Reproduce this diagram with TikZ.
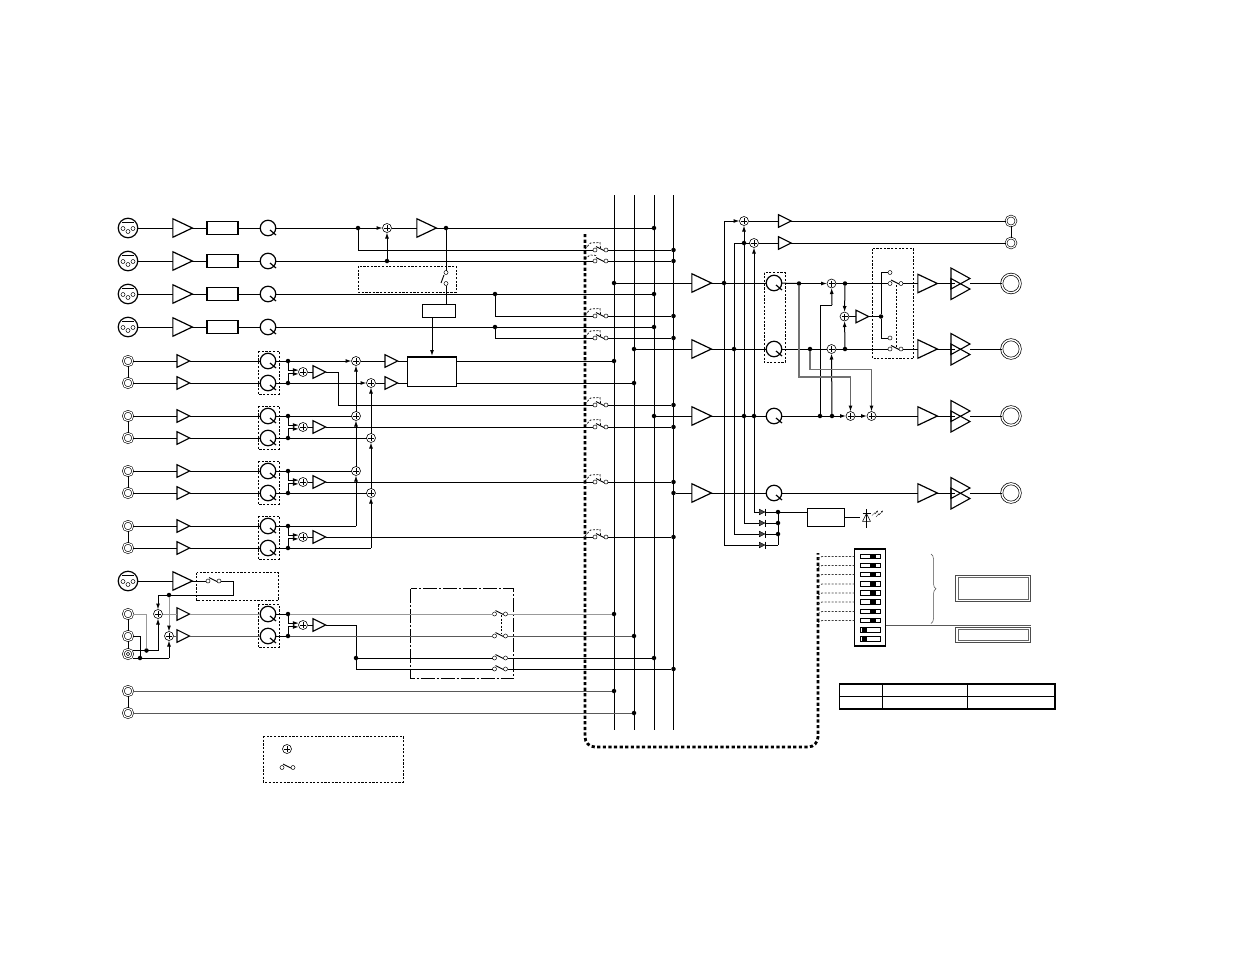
\documentclass[tikz,border=0pt]{standalone}
\usepackage{amsmath}
\usepackage{xcolor}
\usepackage{tikz}
\usetikzlibrary{shapes.geometric,arrows.meta,decorations.pathreplacing}

\tikzset{
  wire/.style={line width=1pt},
  gwire/.style={line width=1pt,black!40},
  dwire/.style={line width=1pt,black!65},
  arr/.style={line width=1pt,-{Latex[length=6pt,width=4pt]}},
  garr/.style={line width=1pt,black!40,-{Latex[length=6pt,width=4pt,black]}},
  amp/.style={isosceles triangle,isosceles triangle stretches,draw,inner sep=0,outer sep=0,
    line width=1.2pt,minimum height=19.5pt,minimum width=18.5pt,xshift=-3.3pt},
  ampsm/.style={amp,line width=1.1pt,minimum height=12.5pt,minimum width=12.5pt,xshift=1.2pt},
  ampdb/.style={amp,line width=1.1pt,minimum height=19pt,minimum width=21pt},
  padbox/.style={rectangle,draw,line width=1.4pt,inner sep=0,outer sep=0,minimum width=31pt,minimum height=13pt},
  knob/.style={circle,draw,line width=1.2pt,inner sep=0,outer sep=0,minimum size=15.5pt},
  xlr/.style={circle,draw,line width=1.2pt,inner sep=0,outer sep=0,minimum size=19.5pt},
  pinh/.style={circle,draw,line width=0.5pt,inner sep=0,outer sep=0,minimum size=4pt},
  jack/.style={circle,draw,line width=0.6pt,double,double distance=1.1pt,inner sep=0,outer sep=0,minimum size=9.5pt},
  jackbig/.style={circle,draw,line width=0.7pt,double,double distance=1.4pt,inner sep=0,outer sep=0,minimum size=18.5pt},
  sumn/.style={circle,draw,line width=0.6pt,inner sep=0,outer sep=0,minimum size=9pt,
    path picture={\draw[line width=0.6pt] ([yshift=-1.5pt]path picture bounding box.north) -- ([yshift=1.5pt]path picture bounding box.south)
      ([xshift=1.5pt]path picture bounding box.west) -- ([xshift=-1.5pt]path picture bounding box.east);}},
  dot/.style={circle,fill,inner sep=0,outer sep=0,minimum size=4.5pt},
  cont/.style={circle,draw,line width=0.5pt,inner sep=0,outer sep=0,minimum size=4pt},
  dashbox/.style={line width=0.8pt,dash pattern=on 2.2pt off 1.5pt},
  swlink/.style={line width=0.7pt,dash pattern=on 2pt off 1.5pt},
  busdash/.style={line width=2.8pt,dash pattern=on 3.2pt off 2.4pt,rounded corners=10pt},
  dio/.style={isosceles triangle,isosceles triangle stretches,draw,fill=black!70,inner sep=0,outer sep=0,line width=0.5pt,
    minimum height=5.5pt,minimum width=5.5pt,xshift=-0.9pt},
  slot/.style={rectangle,draw,line width=0.8pt,inner sep=0,outer sep=0,minimum width=20pt,minimum height=4.5pt},
  slotk/.style={rectangle,fill,inner sep=0,outer sep=0,minimum width=5.5pt,minimum height=4.5pt},
  plain/.style={rectangle,draw,line width=1pt,inner sep=0,outer sep=0}
}

% xlr connector: name, x, y
\newcommand{\xlrjack}[3]{%
  \node[xlr] (#1) at (#2,#3) {};
  \node[pinh] (#1p) at (#2-5,#3+0.5) {};
  \node[pinh] (#1q) at (#2+5,#3+0.5) {};
  \node[pinh] (#1r) at (#2,#3+3.5) {};
  \draw[line width=0.7pt] (#2-6,#3-6) -- (#2+6,#3-6);
}
% level knob: name, x, y
\newcommand{\knobdial}[3]{%
  \node[knob] (#1) at (#2,#3) {};
  \draw[line width=1.2pt] (#2+2,#3+2) -- (#2+8,#3+7);
}
% open switch: name, x, y
\newcommand{\swt}[3]{%
  \node[cont] (#1l) at (#2,#3) {};
  \node[cont] (#1r) at (#2+11,#3) {};
  \draw[line width=0.9pt] (#2+1,#3-3.5) -- (#2+9,#3+0.5);
}
% dashed link from the thick bus line to a switch: y
\newcommand{\buslink}[1]{%
  \draw[swlink] (585,#1-1) -- (590.5,#1-7) -- (600,#1-7.5) -- (600.5,#1-2);
}
% output double triangle: name, y
\newcommand{\ampdbl}[2]{%
  \node[ampdb] (#1u) at (960.5,#2-5) {};
  \node[ampdb] (#1d) at (960.5,#2+5.5) {};
  \coordinate (#1i) at (955,#2);
  \coordinate (#1o) at (970,#2);
}

\begin{document}
\begin{tikzpicture}[x=1pt,y=-1pt]
  \useasboundingbox (0,0) rectangle (1235,954);

  % vertical buses
  \foreach \n/\x in {1/614,2/634,3/654,4/673.5} {
    \coordinate (bus\n t) at (\x,195);
    \coordinate (bus\n b) at (\x,730);
    \draw[wire] (bus\n t) -- (bus\n b);
  }

  % thick dashed control line
  \coordinate (ctla) at (585,234);
  \coordinate (ctlb) at (585,747);
  \coordinate (ctlc) at (818,747);
  \coordinate (ctld) at (818,553);
  \draw[busdash] (ctla) -- (ctlb) -- (ctlc) -- (ctld);

  % mic inputs
  \foreach \n/\y in {1/228,2/261,3/294,4/327} {
    \xlrjack{xl\n}{128}{\y}
    \node[amp] (am\n) at (182,\y) {};
    \node[padbox] (pd\n) at (222.5,\y) {};
    \knobdial{kn\n}{268}{\y}
    \draw[wire] (xl\n) -- (am\n);
    \draw[wire] (am\n) -- (pd\n);
    \draw[wire] (pd\n) -- (kn\n);
  }

  % bus switches
  \foreach \n/\y in {1/250,2/261,3/316,4/338,5/405,6/427,7/482,8/537} {
    \swt{sw\n}{595}{\y}
    \node[dot] (bd\n) at (673.5,\y) {};
    \draw[wire] (sw\n r) -- (bd\n);
  }
  \foreach \y in {250,316,338,405,427,482,537} {
    \buslink{\y}
  }
  \draw[swlink] (585,259) -- (590,255) -- (597,255.5);

  % channel 1 and 2 mix
  \node[dot] (j1a) at (358,228) {};
  \node[sumn] (s1) at (387,228) {};
  \node[amp] (am5) at (426,228) {};
  \node[dot] (j1b) at (446,228) {};
  \node[dot] (j1c) at (654,228) {};
  \node[dot] (j2a) at (387,261) {};
  \draw[wire] (kn1) -- (j1a);
  \draw[arr] (j1a) -- (s1);
  \draw[wire] (s1) -- (am5);
  \draw[wire] (am5) -- (j1b) -- (j1c);
  \draw[wire] (j1a) |- (sw1l);
  \draw[wire] (kn2) -- (sw2l);
  \draw[arr] (j2a) -- (s1);

  % channel 3 and 4
  \node[dot] (j3a) at (495,294) {};
  \node[dot] (j3b) at (654,294) {};
  \node[dot] (j4a) at (495,327) {};
  \node[dot] (j4b) at (654,327) {};
  \draw[wire] (kn3) -- (j3a) -- (j3b);
  \draw[wire] (kn4) -- (j4a) -- (j4b);
  \draw[wire] (j3a) |- (sw3l);
  \draw[wire] (j4a) |- (sw4l);

  % insert switch and effect block
  \draw[dashbox] (358,266) rectangle (456,292);
  \node[cont] (ic1) at (446,272.5) {};
  \node[cont] (ic2) at (446,283.5) {};
  \draw[line width=0.9pt] (444,275) -- (441,283);
  \node[plain,minimum width=33pt,minimum height=13pt] (ins) at (439,310.5) {};
  \node[plain,minimum width=49.5pt,minimum height=30pt] (fx) at (432,371.5) {};
  \draw[line width=2pt] (fx.north west) -- (fx.north east);
  \coordinate (insb) at (446,304.5);
  \coordinate (fxa) at (432,317);
  \coordinate (fxb) at (432,356);
  \draw[wire] (j1b) -- (ic1);
  \draw[wire] (ic2) -- (insb);
  \draw[arr] (fxa) -- (fxb);

  % stereo line inputs
  \foreach \n/\y/\z/\m in {5/361/383/372,6/416/438/427,7/471/493/482,8/526/548/537} {
    \node[jack] (ja\n) at (128,\y) {};
    \node[jack] (jb\n) at (128,\z) {};
    \node[ampsm] (aa\n) at (183,\y) {};
    \node[ampsm] (ab\n) at (183,\z) {};
    \knobdial{ka\n}{268}{\y}
    \knobdial{kb\n}{268}{\z}
    \draw[dashbox] (258,\y-10) rectangle (279,\z+11);
    \node[dot] (da\n) at (288,\y) {};
    \node[dot] (db\n) at (288,\z) {};
    \node[sumn] (mx\n) at (303,\m) {};
    \node[ampsm] (ma\n) at (319,\m) {};
    \draw[wire] (ja\n) -- (jb\n);
    \draw[wire] (ja\n) -- (aa\n);
    \draw[wire] (jb\n) -- (ab\n);
    \draw[wire] (aa\n) -- (ka\n);
    \draw[wire] (ab\n) -- (kb\n);
    \draw[wire] (ka\n) -- (da\n);
    \draw[wire] (kb\n) -- (db\n);
    \draw[arr] (da\n) |- (mx\n.155);
    \draw[arr] (db\n) |- (mx\n.205);
    \draw[wire] (mx\n) -- (ma\n);
  }

  % stereo mix sums
  \node[sumn] (sa5) at (356,361) {};
  \node[sumn] (sb5) at (371,383) {};
  \node[sumn] (sa6) at (356,416) {};
  \node[sumn] (sb6) at (371,438) {};
  \node[sumn] (sa7) at (356,471) {};
  \node[sumn] (sb7) at (371,493) {};
  \coordinate (ca8) at (356,526);
  \coordinate (cb8) at (371,548);
  \draw[arr] (da5) -- (sa5);
  \draw[arr] (db5) -- (sb5);
  \draw[wire] (da6) -- (sa6);
  \draw[wire] (db6) -- (sb6);
  \draw[wire] (da7) -- (sa7);
  \draw[wire] (db7) -- (sb7);
  \draw[wire] (da8) -- (ca8);
  \draw[wire] (db8) -- (cb8);
  \draw[arr] (ca8) -- (sa7);
  \draw[arr] (cb8) -- (sb7);
  \draw[arr] (sa7) -- (sa6);
  \draw[arr] (sb7) -- (sb6);
  \draw[arr] (sa6) -- (sa5);
  \draw[arr] (sb6) -- (sb5);

  % buffers into the effect block
  \node[ampsm] (ar5a) at (391,361) {};
  \node[ampsm] (ar5b) at (391,383) {};
  \node[dot] (d5a) at (614,361) {};
  \node[dot] (d5b) at (634,383) {};
  \draw[wire] (sa5) -- (ar5a);
  \draw[wire] (sb5) -- (ar5b);
  \draw[wire] (ar5a) -- (ar5a -| fx.west);
  \draw[wire] (ar5b) -- (ar5b -| fx.west);
  \draw[wire] (d5a -| fx.east) -- (d5a);
  \draw[wire] (d5b -| fx.east) -- (d5b);

  % mix outputs to bus switches
  \coordinate (cm5) at (338,372);
  \draw[wire] (ma5) -- (cm5) |- (sw5l);
  \draw[wire] (ma6) -- (sw6l);
  \draw[wire] (ma7) -- (sw7l);
  \draw[wire] (ma8) -- (sw8l);

  % aux input
  \xlrjack{xl9}{128}{581}
  \node[amp] (am9) at (182,581) {};
  \draw[dashbox] (196.5,572.5) rectangle (278.5,600.5);
  \swt{sx9}{208}{581}
  \coordinate (cx9a) at (233,581);
  \coordinate (cx9b) at (233,595);
  \coordinate (cx9c) at (158,595);
  \node[dot] (dx9) at (169,595) {};
  \node[sumn] (sm9a) at (158,614) {};
  \node[sumn] (sm9b) at (169,636) {};
  \draw[wire] (xl9) -- (am9);
  \draw[wire] (am9) -- (sx9l);
  \draw[wire] (sx9r) -- (cx9a) -- (cx9b) -- (cx9c);
  \draw[arr] (cx9c) -- (sm9a);
  \draw[garr] (dx9) -- (sm9b);

  % rear line jacks
  \node[jack] (ja9) at (128,614) {};
  \node[jack] (jb9) at (128,636) {};
  \node[jack] (jc9) at (128,654) {};
  \node[circle,draw,line width=0.5pt,inner sep=0,minimum size=3.5pt] (jd9) at (128,654) {};
  \node[dot] (dj9a) at (146.5,650.5) {};
  \node[dot] (dj9b) at (140,658) {};
  \coordinate (cj9a) at (146.5,614);
  \coordinate (cj9b) at (140,636);
  \coordinate (cj9c) at (158,650.5);
  \coordinate (cj9d) at (169,658);
  \draw[wire] (ja9) -- (jb9);
  \draw[wire] (jb9) -- (jc9);
  \draw[gwire] (ja9) -- (cj9a) -- (dj9a);
  \draw[wire] (jb9) -- (cj9b) -- (dj9b);
  \draw[wire] (dj9a -| jc9.east) -- (cj9c);
  \draw[wire] (dj9b -| jc9.east) -- (cj9d);
  \draw[arr] (cj9c) -- (sm9a);
  \draw[arr] (cj9d) -- (sm9b);
  \node[ampsm] (aa9) at (183,614) {};
  \node[ampsm] (ab9) at (183,636) {};
  \knobdial{ka9}{268}{614}
  \knobdial{kb9}{268}{636}
  \draw[dashbox] (258,604.5) rectangle (279,647.5);
  \node[dot] (da9) at (288,614) {};
  \node[dot] (db9) at (288,636) {};
  \node[sumn] (mx9) at (303,625) {};
  \node[ampsm] (ma9) at (319,625) {};
  \draw[gwire] (sm9a) -- (aa9);
  \draw[gwire] (aa9) -- (ka9);
  \draw[dwire] (sm9b) -- (ab9);
  \draw[dwire] (ab9) -- (kb9);
  \draw[wire] (ka9) -- (da9);
  \draw[wire] (kb9) -- (db9);
  \draw[arr] (da9) |- (mx9.155);
  \draw[arr] (db9) |- (mx9.205);
  \draw[wire] (mx9) -- (ma9);

  % aux switch block
  \draw[line width=0.9pt,dash pattern=on 14pt off 2pt on 2pt off 2pt] (410.5,588.5) rectangle (513.5,678.5);
  \swt{sxa}{494.5}{614}
  \swt{sxb}{494.5}{636}
  \swt{sxc}{494.5}{658}
  \swt{sxd}{494.5}{669}
  \coordinate (cxl) at (356,625);
  \coordinate (lnka) at (501,615);
  \coordinate (lnkb) at (501,633);
  \node[dot] (dxl) at (356,658) {};
  \node[dot] (dxa) at (614,614) {};
  \node[dot] (dxb) at (634,636) {};
  \node[dot] (dxc) at (654,658) {};
  \node[dot] (dxd) at (673.5,669) {};
  \draw[swlink] (lnka) -- (lnkb);
  \draw[wire] (ma9) -- (cxl) -- (dxl);
  \draw[wire] (dxl) -- (sxcl);
  \draw[wire] (dxl) |- (sxdl);
  \draw[gwire] (da9) -- (sxal);
  \draw[gwire] (sxar) -- (dxa);
  \draw[dwire] (db9) -- (sxbl);
  \draw[dwire] (sxbr) -- (dxb);
  \draw[wire] (sxcr) -- (dxc);
  \draw[wire] (sxdr) -- (dxd);

  % bottom jacks
  \node[jack] (je1) at (128,691) {};
  \node[jack] (je2) at (128,713) {};
  \node[dot] (de1) at (614,691) {};
  \node[dot] (de2) at (634,713) {};
  \draw[wire] (je1) -- (je2);
  \draw[dwire] (je1) -- (de1);
  \draw[dwire] (je2) -- (de2);

  % legend
  \draw[dashbox] (263,736) rectangle (403,782);
  \node[sumn] (lgs) at (287,749) {};
  \swt{lgw}{282}{767.5}

  % output amps from buses
  \foreach \n/\b/\y in {1/614/283,2/634/349,3/654/416,4/673.5/493} {
    \node[dot] (od\n) at (\b,\y) {};
    \node[amp] (oa\n) at (701,\y) {};
    \knobdial{ok\n}{774}{\y}
    \draw[wire] (od\n) -- (oa\n);
  }
  \draw[dashbox] (764,272.5) rectangle (785,362.5);
  \node[dot] (dn1) at (724,283) {};
  \node[dot] (dn2) at (734,349) {};
  \node[dot] (dn3) at (744,416) {};
  \node[dot] (dn4) at (754,416) {};
  \draw[wire] (oa1) -- (dn1) -- (ok1);
  \draw[wire] (oa2) -- (dn2) -- (ok2);
  \draw[wire] (oa3) -- (dn3) -- (dn4) -- (ok3);
  \draw[wire] (oa4) -- (ok4);

  % headphone sums
  \node[sumn] (hs1) at (744,221) {};
  \node[sumn] (hs2) at (754,243) {};
  \node[dot] (hd2) at (744,243) {};
  \node[ampsm] (ha1) at (784.5,221) {};
  \node[ampsm] (ha2) at (784.5,243) {};
  \node[jack,minimum size=10pt] (hj1) at (1011,221) {};
  \node[jack,minimum size=10pt] (hj2) at (1011,243) {};
  \coordinate (hc1) at (724,221);
  \coordinate (hc2) at (734,243);
  \draw[arr] (hc1) -- (hs1);
  \draw[wire] (hc2) -- (hd2) -- (hs2);
  \draw[wire] (hs1) -- (ha1);
  \draw[wire] (hs2) -- (ha2);
  \draw[wire] (ha1) -- (hj1);
  \draw[wire] (ha2) -- (hj2);
  \draw[wire] (hj1) -- (hj2);

  % clip leds
  \foreach \n/\y/\x in {1/512/754,2/523/744,3/534/734,4/545/724} {
    \node[dio] (dc\n) at (762,\y) {};
    \draw[line width=1.1pt] (765.5,\y-3.5) -- (765.5,\y+3.5);
    \coordinate (dl\n) at (\x,\y);
    \coordinate (dr\n) at (778,\y);
    \draw[wire] (dl\n) -- (dc\n);
    \draw[wire] (dc\n) -- (dr\n);
  }
  \draw[arr] (dn4) -- (hs2);
  \draw[wire] (dn3) -- (hd2);
  \draw[arr] (hd2) -- (hs1);
  \draw[wire] (dn1) -- (hc1);
  \draw[wire] (dn2) -- (hc2);
  \draw[wire] (dn1) -- (dl4);
  \draw[wire] (dn2) -- (dl3);
  \draw[wire] (dn3) -- (dl2);
  \draw[wire] (dn4) -- (dl1);
  \node[dot] (dq1) at (778,512) {};
  \node[dot] (dq2) at (778,523) {};
  \node[dot] (dq3) at (778,534) {};
  \draw[wire] (dq1) -- (dr4);
  \node[plain,line width=1.2pt,minimum width=36.5pt,minimum height=17.5pt] (clp) at (826,517.5) {};
  \draw[wire] (dq1) -- (dq1 -| clp.west);
  \coordinate (ledi) at (860,517.5);
  \coordinate (leda) at (866.5,509);
  \coordinate (ledb) at (866.5,528);
  \node[dio,xshift=0.9pt,fill=white,shape border rotate=90,minimum height=8pt,minimum width=8pt] (led) at (866.5,519) {};
  \draw[wire] (clp.east |- ledi) -- (ledi);
  \draw[wire] (leda) -- (ledb);
  \draw[wire] (862.5,513.5) -- (870.5,513.5);
  \draw[line width=0.3pt,-{Latex[length=2pt,width=1.5pt]}] (872,515.5) -- (875,512.5) -- (875,514) -- (878,510.5);
  \draw[line width=0.3pt,-{Latex[length=2pt,width=1.5pt]}] (876,517) -- (879,513.5) -- (879,515) -- (883,510.5);

  % main section: left and right
  \node[dot] (ms1) at (799,283.5) {};
  \node[sumn] (ms2) at (831.5,283.5) {};
  \node[dot] (ms3) at (845,283.5) {};
  \node[dot] (mr1) at (810,349) {};
  \node[sumn] (mr2) at (831.5,349) {};
  \node[dot] (mr3) at (845,349) {};
  \node[sumn] (mm1) at (844.5,316.5) {};
  \node[ampsm] (mm2) at (862,316.5) {};
  \node[dot] (mm3) at (881,316.5) {};
  \draw[wire] (ok1) -- (ms1);
  \draw[arr] (ms1) -- (ms2);
  \draw[wire] (ms2) -- (ms3);
  \draw[wire] (ok2) -- (mr1) -- (mr2) -- (mr3);
  \draw[arr] (ms3) -- (mm1);
  \draw[arr] (mr3) -- (mm1);
  \draw[wire] (mm1) -- (mm2);
  \draw[wire] (mm2) -- (mm3);

  % mono switches
  \draw[dashbox] (872.5,248.5) rectangle (913.5,358.5);
  \swt{so1}{890}{283.5}
  \swt{so2}{890}{349}
  \node[cont] (ct1) at (890,272.5) {};
  \node[cont] (ct2) at (890,338) {};
  \coordinate (ca1) at (881,272.5);
  \coordinate (ca2) at (881,338);
  \coordinate (lk1) at (896.5,285);
  \coordinate (lk2) at (896.5,347);
  \draw[wire] (ct1) -- (ca1) -- (mm3);
  \draw[wire] (ct2) -- (ca2) -- (mm3);
  \draw[swlink] (lk1) -- (lk2);
  \draw[wire] (ms3) -- (so1l);
  \draw[wire] (mr3) -- (so2l);

  % centre row
  \node[dot] (cn1) at (820,416) {};
  \node[dot] (cn2) at (832,416) {};
  \node[sumn] (cs1) at (850.5,416) {};
  \node[sumn] (cs2) at (871.5,416) {};
  \coordinate (cc1) at (820,305);
  \coordinate (cc2) at (832,305);
  \draw[wire] (ok3) -- (cn1) -- (cn2);
  \draw[arr] (cn2) -- (cs1);
  \draw[arr] (cs1) -- (cs2);
  \draw[wire] (cn1) -- (cc1) -- (cc2);
  \draw[arr] (cc2) -- (ms2);
  \draw[arr] (cn2) -- (mr2);

  % gray feeds to the centre sums
  \coordinate (gc1) at (799,377);
  \coordinate (gc2) at (850.5,377);
  \coordinate (gc3) at (810,369.5);
  \coordinate (gc4) at (871.5,369.5);
  \draw[gwire,line width=1.2pt,black!55] (ms1) -- (gc1) -- (gc2);
  \draw[garr,black!60] (gc2) -- (cs1);
  \draw[gwire,line width=1.2pt,black!55] (mr1) -- (gc3) -- (gc4);
  \draw[garr,black!60] (gc4) -- (cs2);

  % output stages
  \foreach \n/\y in {1/283.5,2/349,3/416,4/493} {
    \node[amp] (fa\n) at (927,\y) {};
    \ampdbl{fd\n}{\y}
    \node[jackbig] (fj\n) at (1011,\y) {};
    \draw[wire] (fa\n) -- (fd\n i);
    \draw[wire] (fd\n o) -- (fj\n);
  }
  \draw[wire] (so1r) -- (fa1);
  \draw[wire] (so2r) -- (fa2);
  \draw[wire] (cs2) -- (fa3);
  \draw[wire] (ok4) -- (fa4);

  % dip switch
  \node[plain,line width=1.1pt,minimum width=31.5pt,minimum height=97pt] (dip) at (870,597.5) {};
  \foreach \n/\y/\k in {1/556.5/873,2/565.5/873,3/574.5/873,4/584/873,5/593/873,6/602/873,7/611.5/873,8/620.5/873,9/630/864.5,10/639/864.5} {
    \node[slot] (ds\n) at (870,\y) {};
    \node[slotk] (dk\n) at (\k,\y) {};
  }
  \foreach \n/\y in {1/556.5,2/565.5,3/574.5,4/584,5/593,6/602,7/611.5,8/620.5} {
    \coordinate (dpa\n) at (818,\y+2);
    \coordinate (dpb\n) at (822,\y);
    \draw[swlink,line width=0.8pt,black!75] (dpa\n) -- (dpb\n) -- (dip.west |- dpb\n);
  }
  \coordinate (dipo) at (1030.5,625);
  \draw[dwire] (dip.east |- dipo) -- (dipo);
  \draw[line width=0.5pt,black!70,decorate,decoration={brace,amplitude=5pt}] (931,554) -- (931,623.5);

  % display boxes
  \node[plain,draw=black!70,minimum width=75pt,minimum height=26pt] (dsa) at (993,588) {};
  \node[plain,draw=black!60,line width=0.7pt,minimum width=70pt,minimum height=22pt] (dsb) at (993,588) {};
  \node[plain,draw=black!70,minimum width=75pt,minimum height=15pt] (dsc) at (993,634.8) {};
  \node[plain,draw=black!60,line width=0.7pt,minimum width=70pt,minimum height=11pt] (dsd) at (993,634.8) {};

  % table
  \draw[line width=1.8pt] (839.5,684) rectangle (1055,709);
  \draw[line width=1pt] (839.5,696.5) -- (1055,696.5);
  \draw[line width=1pt] (882.5,684) -- (882.5,709);
  \draw[line width=1pt] (967.5,684) -- (967.5,709);
\end{tikzpicture}
\end{document}
